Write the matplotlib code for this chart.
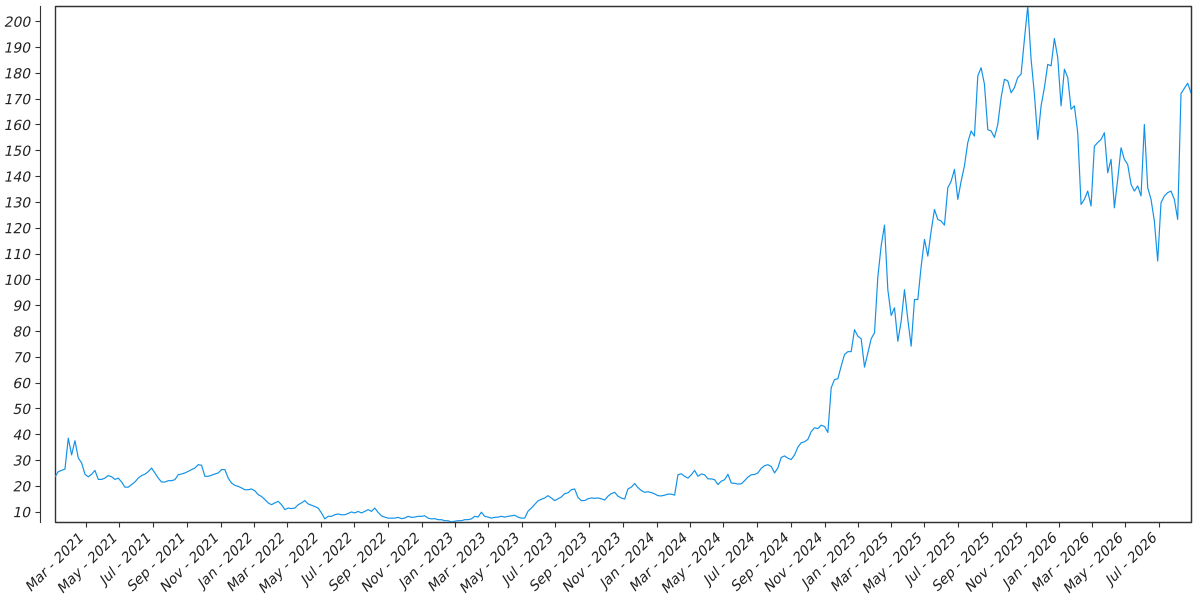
import matplotlib
matplotlib.use("Agg")
import matplotlib.pyplot as plt
import matplotlib.dates as mdates
from matplotlib.ticker import MultipleLocator
from matplotlib.patches import Rectangle
from matplotlib.patheffects import AbstractPathEffect
from matplotlib.transforms import Affine2D
import pandas as pd

# price, one value about every six days
px_2021_22 = [23.5, 25.5, 26, 26.5, 38.5, 32, 37.5, 30.8, 28.9, 24.5,
              23.5, 24.5, 26, 22.5, 22.5, 23, 24, 23.5, 22.5, 23,
              21.5, 19.5, 19.5, 20.5, 21.5, 23, 24, 24.5, 25.5, 26.9,
              25, 23, 21.5, 21.5, 22, 22, 22.4, 24.3, 24.6, 25,
              25.6, 26.3, 26.9, 28.2, 28, 23.7, 23.7, 24.1, 24.6, 25,
              26.3, 26.3, 23, 21.1, 20.2, 19.8, 19.2, 18.5, 18.5, 18.8,
              18.1, 16.6, 15.9, 14.7, 13.4, 12.7, 13.4, 14, 12.7, 10.8,
              11.4, 11.2, 11.4, 12.7, 13.4, 14.3, 13, 12.5, 12, 11.4,
              9.5, 7.2, 8.2, 8.2, 8.8, 9.1]
px_2022_23 = [8.8, 8.8, 9.3, 9.9, 9.5, 10.1, 9.5, 10.1, 10.8, 10.1,
              11.4, 9.7, 8.4, 7.9, 7.5, 7.5, 7.5, 7.8, 7.3, 7.5,
              8.2, 7.8, 7.9, 8.2, 8.2, 8.4, 7.5, 7.2, 7.3, 6.9,
              6.9, 6.5, 6.5, 6.0, 6.3, 6.5, 6.5, 6.9, 6.9, 7.2,
              8.2, 7.9, 9.8, 8.2, 7.9, 7.5, 7.8, 7.9, 8.2, 7.9,
              8.2, 8.4, 8.6, 7.9, 7.5, 7.5, 10.2, 11.4, 12.8, 14.2,
              14.8, 15.3, 16.2, 15.3, 14.3, 15, 15.7, 17, 17.3, 18.5,
              18.8, 15.5, 14.3, 14.3, 15, 15.3, 15.2, 15.3, 15, 14.5,
              16, 17, 17.5, 16]
px_2023_24 = [15.3, 14.9, 18.8, 19.5, 20.9, 19.3, 18.2, 17.5, 17.7, 17.4,
              16.9, 16.2, 16.1, 16.4, 16.8, 16.8, 16.4, 24.3, 24.7, 23.7,
              23, 24.3, 26, 23.7, 24.6, 24.3, 22.7, 22.7, 22.4, 20.5,
              21.8, 22.4, 24.5, 21.1, 21, 20.7, 20.8, 22, 23.4, 24.3,
              24.4, 25, 26.8, 27.8, 28.2, 27.5, 25, 27, 31, 31.6,
              30.7, 30.2, 32, 35, 36.7, 37.1, 38, 41, 42.5, 42.2,
              43.5, 43, 40.7, 58]
px_2024_25 = [61.2, 61.5, 66.4, 70.9, 72, 72, 80.5, 78, 77, 66,
              71.5, 77, 79.3, 101, 113, 121, 96, 86, 89, 76,
              83.8, 96, 84.4, 74.1, 92.2, 92.2, 105, 115.5, 109, 118.7,
              127.1, 123.2, 122.6, 121]
px_2025_26 = [135.5, 138, 142.6, 131, 138, 144, 153, 157.5, 155.5, 178.8,
              182, 175.6, 158, 157.5, 155, 160, 170.4, 177.5, 176.9, 172.3,
              174.3, 178.2, 179.5, 193, 205.9, 185.3, 171.7, 154.2, 167.2, 174.3,
              183.3, 182.7, 193.3, 185.9, 167.2, 181.4, 178.2, 165.9, 167.2, 156.8,
              129, 131, 134.2, 128.4, 151.6, 153, 154.2, 156.8, 141.3, 146.5,
              127.7, 138.7, 151, 146.5, 144.5, 136.8, 134.2, 136.2, 132.3, 160,
              135.5, 131, 122.6, 107.1, 129.7, 132.3, 133.6, 134.2, 131, 123.2,
              172, 174, 176, 172.3]

price = px_2021_22 + px_2022_23 + px_2023_24 + px_2024_25 + px_2025_26
dates = pd.date_range("2021-01-04", "2026-08-28", periods=len(price))

EDGE = "#333333"


class Slant(AbstractPathEffect):
    """Shear glyphs so tick labels come out italic whatever fonts exist."""
    def draw_path(self, renderer, gc, tpath, affine, rgbFace=None):
        renderer.draw_path(gc, tpath, Affine2D().skew_deg(12, 0) + affine, rgbFace)


fig = plt.figure(figsize=(12, 6), dpi=100)
ax = fig.add_axes([0.0458, 0.13, 0.9467, 0.86])
ax.plot(dates, price, color="#1192e8", lw=0.85)
ax.margins(0)

# y axis sits a little away from the frame
ax.spines["left"].set_position(("outward", 11))
for s in ax.spines.values():
    s.set_color(EDGE)
ax.add_patch(Rectangle((0, 0), 1, 1, transform=ax.transAxes, fill=False,
                       ec=EDGE, lw=1, clip_on=False))

ax.yaxis.set_major_locator(MultipleLocator(10))
ax.xaxis.set_major_locator(mdates.MonthLocator(bymonth=[1, 3, 5, 7, 9, 11]))
ax.xaxis.set_major_formatter(mdates.DateFormatter("%b - %Y"))
ax.tick_params(labelsize=10, color=EDGE, labelcolor="#222222")
fig.canvas.draw()
plt.setp(ax.get_xticklabels(), rotation=45, ha="right", path_effects=[Slant()])
plt.setp(ax.get_yticklabels(), path_effects=[Slant()])

fig.savefig("out.png", dpi=100)
